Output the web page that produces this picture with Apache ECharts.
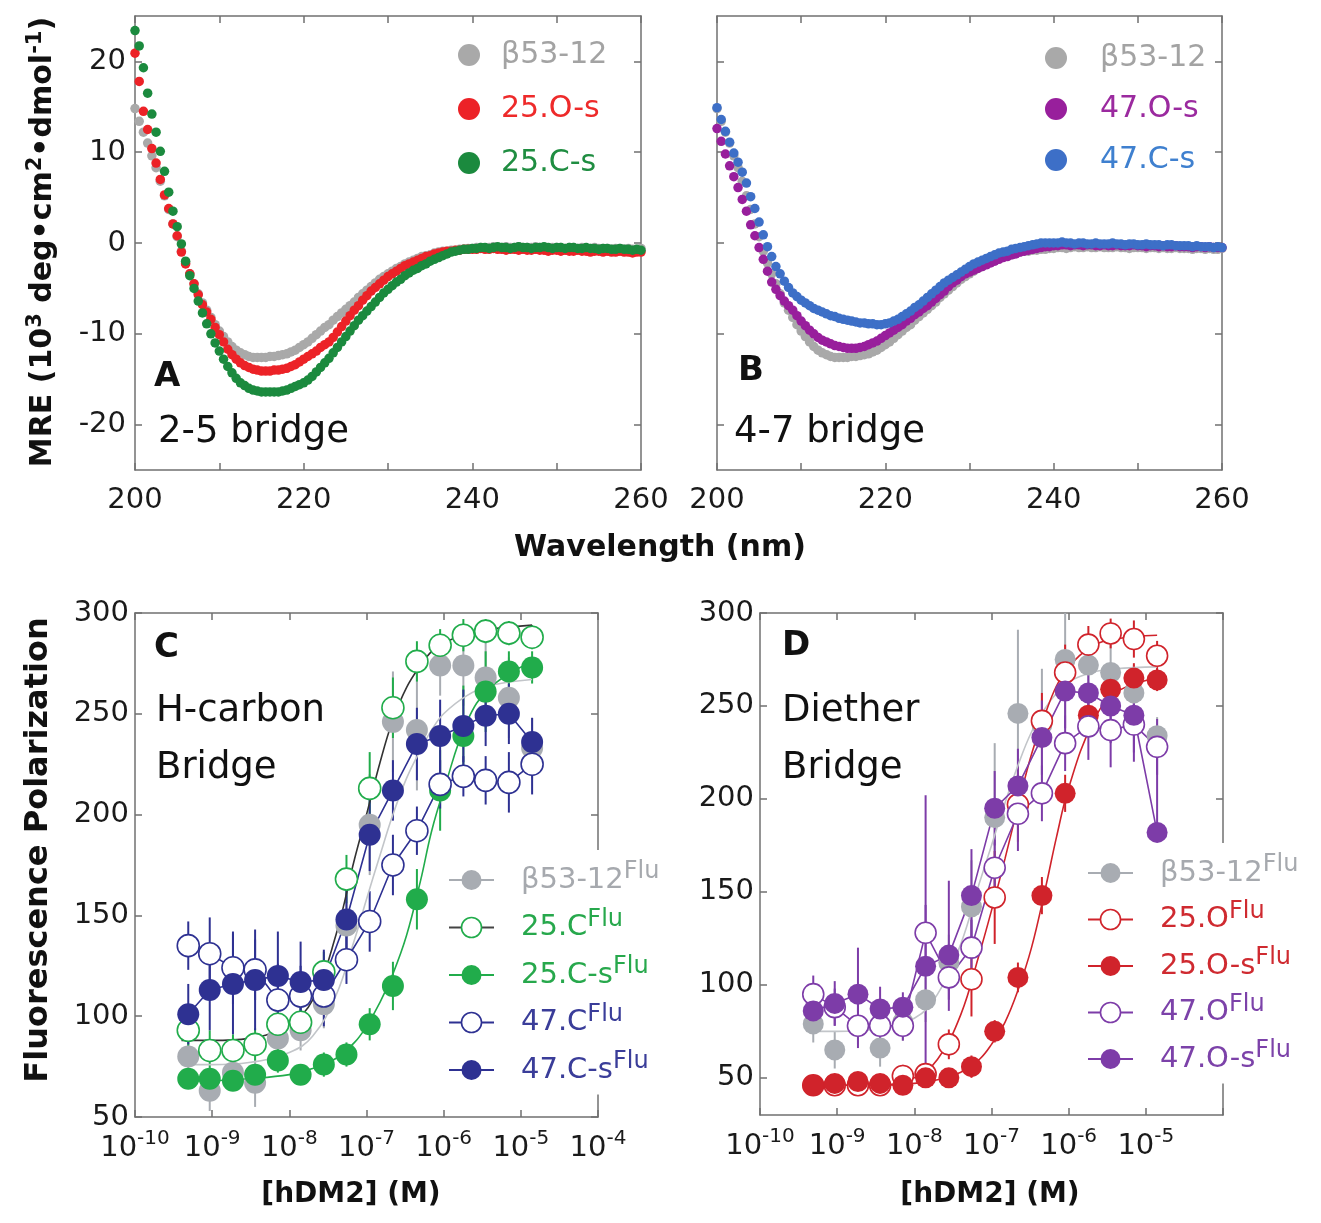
<!DOCTYPE html>
<html><head><meta charset="utf-8">
<script src="https://cdn.jsdelivr.net/npm/echarts@6/dist/echarts.min.js"></script>
<style>html,body{margin:0;padding:0;background:#fff}#c{width:1321px;height:1223px}</style>
</head><body><div id="c"></div>
<script>
// ---------- Panel A/B : CD spectra ----------
const wavelengths = [
200,200.5,201,201.5,202,202.5,203,203.5,204,204.5,
205,205.5,206,206.5,207,207.5,208,208.5,209,209.5,
210,210.5,211,211.5,212,212.5,213,213.5,214,214.5,
215,215.5,216,216.5,217,217.5,218,218.5,219,219.5,
220,220.5,221,221.5,222,222.5,223,223.5,224,224.5,
225,225.5,226,226.5,227,227.5,228,228.5,229,229.5,
230,230.5,231,231.5,232,232.5,233,233.5,234,234.5,
235,235.5,236,236.5,237,237.5,238,238.5,239,239.5,
240,240.5,241,241.5,242,242.5,243,243.5,244,244.5,
245,245.5,246,246.5,247,247.5,248,248.5,249,249.5,
250,250.5,251,251.5,252,252.5,253,253.5,254,254.5,
255,255.5,256,256.5,257,257.5,258,258.5,259,259.5,
260];
const mreB5312 = [
14.8,13.4,12.2,11.0,9.6,8.3,6.8,5.2,3.7,2.1,
0.7,-0.9,-2.2,-3.4,-4.5,-5.6,-6.6,-7.4,-8.2,-9.0,
-9.7,-10.3,-10.9,-11.4,-11.8,-12.1,-12.3,-12.5,-12.6,-12.6,
-12.6,-12.6,-12.5,-12.5,-12.4,-12.3,-12.2,-12.0,-11.8,-11.5,
-11.2,-10.9,-10.5,-10.1,-9.7,-9.3,-9.0,-8.5,-8.1,-7.7,
-7.3,-6.9,-6.5,-6.0,-5.6,-5.2,-4.8,-4.4,-4.0,-3.7,
-3.4,-3.1,-2.8,-2.6,-2.3,-2.1,-1.9,-1.7,-1.5,-1.4,
-1.3,-1.1,-1.0,-0.9,-0.9,-0.8,-0.8,-0.7,-0.7,-0.6,
-0.6,
-0.5,-0.5,-0.6,-0.5,-0.4,-0.5,-0.5,-0.4,-0.5,-0.5,
-0.4,-0.5,-0.5,-0.5,-0.4,-0.5,-0.5,-0.6,-0.5,-0.5,
-0.5,-0.6,-0.5,-0.5,-0.6,-0.5,-0.6,-0.6,-0.5,-0.6,
-0.6,-0.6,-0.7,-0.6,-0.6,-0.7,-0.6,-0.7,-0.7,-0.6];
const mre25Os = [
20.9,17.8,14.5,12.5,10.4,8.8,7.0,5.3,3.8,2.1,
0.8,-1.0,-2.3,-3.4,-4.5,-5.7,-6.8,-7.6,-8.4,-9.3,
-10.1,-10.9,-11.7,-12.3,-12.8,-13.2,-13.5,-13.7,-13.9,-14.0,
-14.1,-14.1,-14.1,-14.0,-14.0,-13.9,-13.8,-13.6,-13.4,-13.1,
-12.8,-12.5,-12.2,-11.9,-11.5,-11.2,-10.9,-10.4,-9.8,-9.2,
-8.6,-8.0,-7.4,-6.9,-6.3,-5.8,-5.3,-4.9,-4.5,-4.1,
-3.7,-3.4,-3.1,-2.8,-2.5,-2.3,-2.1,-1.9,-1.7,-1.5,
-1.4,-1.2,-1.1,-1.0,-0.9,-0.9,-0.8,-0.8,-0.7,-0.7,
-0.7,
-0.7,-0.6,-0.7,-0.7,-0.6,-0.7,-0.7,-0.8,-0.7,-0.7,
-0.8,-0.7,-0.8,-0.8,-0.7,-0.8,-0.8,-0.9,-0.8,-0.8,
-0.9,-0.8,-0.9,-0.9,-0.8,-0.9,-0.9,-1.0,-0.9,-0.9,
-1.0,-0.9,-1.0,-1.0,-0.9,-1.0,-1.0,-1.1,-1.0,-1.0];
const mre25Cs = [
23.4,21.7,19.3,16.5,14.2,12.2,10.1,7.9,5.6,3.5,
1.8,-0.1,-2.0,-3.6,-5.0,-6.4,-7.7,-8.9,-10.0,-11.0,
-11.9,-12.8,-13.6,-14.3,-14.9,-15.4,-15.7,-16.0,-16.2,-16.3,
-16.4,-16.4,-16.4,-16.4,-16.4,-16.3,-16.2,-16.0,-15.8,-15.6,
-15.4,-15.1,-14.7,-14.2,-13.7,-13.2,-12.7,-12.1,-11.5,-10.9,
-10.3,-9.7,-9.1,-8.5,-8.0,-7.5,-7.0,-6.5,-6.0,-5.5,
-5.1,-4.7,-4.3,-4.0,-3.6,-3.3,-3.0,-2.8,-2.5,-2.3,
-2.0,-1.8,-1.6,-1.4,-1.2,-1.0,-0.9,-0.8,-0.7,-0.7,
-0.6,
-0.6,-0.5,-0.5,-0.6,-0.5,-0.4,-0.5,-0.5,-0.6,-0.5,
-0.4,-0.5,-0.5,-0.6,-0.5,-0.5,-0.4,-0.5,-0.6,-0.5,
-0.5,-0.6,-0.5,-0.5,-0.6,-0.6,-0.5,-0.6,-0.6,-0.7,
-0.6,-0.6,-0.7,-0.7,-0.6,-0.7,-0.7,-0.8,-0.7,-0.8];
const mre47Os = [
12.6,11.2,9.8,8.5,7.3,6.1,4.8,3.5,2.0,0.8,
-0.5,-1.8,-3.1,-4.3,-5.1,-5.8,-6.4,-6.9,-7.4,-8.0,
-8.6,-9.1,-9.6,-10.0,-10.4,-10.7,-10.9,-11.1,-11.3,-11.4,
-11.5,-11.6,-11.6,-11.6,-11.5,-11.4,-11.2,-11.0,-10.8,-10.5,
-10.2,-9.9,-9.6,-9.3,-9.0,-8.6,-8.3,-7.9,-7.6,-7.2,
-6.9,-6.5,-6.1,-5.7,-5.3,-4.8,-4.4,-4.1,-3.7,-3.4,
-3.2,-3.0,-2.8,-2.6,-2.4,-2.2,-2.0,-1.8,-1.6,-1.5,
-1.3,-1.2,-1.0,-0.9,-0.8,-0.7,-0.6,-0.5,-0.4,-0.4,
-0.3,
-0.3,-0.2,-0.2,-0.3,-0.2,-0.2,-0.3,-0.2,-0.2,-0.3,
-0.3,-0.2,-0.3,-0.3,-0.2,-0.3,-0.3,-0.3,-0.2,-0.3,
-0.3,-0.4,-0.3,-0.3,-0.4,-0.3,-0.4,-0.4,-0.3,-0.4,
-0.4,-0.4,-0.5,-0.4,-0.4,-0.5,-0.4,-0.5,-0.5,-0.5];
const mre47Cs = [
14.9,13.6,12.3,11.1,9.9,8.9,7.8,6.6,5.1,3.8,
2.3,0.9,-0.4,-1.5,-2.6,-3.4,-4.2,-4.9,-5.5,-5.9,
-6.3,-6.6,-6.9,-7.2,-7.4,-7.6,-7.8,-8.0,-8.1,-8.3,
-8.4,-8.5,-8.6,-8.7,-8.8,-8.8,-8.9,-8.9,-9.0,-9.0,
-8.9,-8.8,-8.6,-8.4,-8.1,-7.8,-7.5,-7.1,-6.8,-6.4,
-6.0,-5.6,-5.2,-4.8,-4.4,-4.1,-3.8,-3.5,-3.2,-2.9,
-2.6,-2.3,-2.1,-1.9,-1.7,-1.5,-1.3,-1.1,-1.0,-0.9,
-0.7,-0.6,-0.5,-0.4,-0.3,-0.2,-0.1,0.0,0.0,0.0,
0.0,
0.0,0.1,0.0,0.0,-0.1,0.0,0.0,-0.1,-0.1,0.0,
-0.1,-0.1,-0.1,0.0,-0.1,-0.1,-0.2,-0.1,-0.1,-0.2,
-0.2,-0.1,-0.2,-0.2,-0.2,-0.3,-0.2,-0.2,-0.3,-0.3,
-0.3,-0.3,-0.4,-0.3,-0.4,-0.4,-0.4,-0.5,-0.4,-0.5];

// ---------- Panel C/D : fluorescence polarization ----------
const conc = [4.9e-10,9.3e-10,1.86e-9,3.6e-9,7.1e-9,1.4e-8,2.8e-8,5.5e-8,1.1e-7,2.2e-7,4.5e-7,9.0e-7,1.8e-6,3.5e-6,7.0e-6,1.4e-5];
const fpC_b5312 = [80,63,72,67,89,93,106,145,195,246,242,274,274,268,258,233];
const errC_b5312 = [8,10,8,12,10,10,12,20,25,25,30,15,20,25,20,15];
const fpC_25C = [93,83,83,86,96,97,122,168,213,253,276,284,289,291,290,288];
const errC_25C = [8,10,8,8,10,8,10,12,18,15,10,8,8,6,6,6];
const fpC_25Cs = [69,69,68,71,78,71,76,81,96,115,158,212,239,261,271,273];
const errC_25Cs = [5,5,5,5,6,5,6,6,8,12,15,20,25,20,10,8];
const fpC_47C = [135,131,124,123,108,110,110,128,147,175,192,215,219,217,216,225];
const errC_47C = [12,18,18,15,18,15,15,12,15,15,12,12,10,12,15,15];
const fpC_47Cs = [101,113,116,118,120,117,118,148,190,212,235,239,244,249,250,236];
const errC_47Cs = [15,20,25,25,22,20,15,15,18,15,18,18,18,15,15,12];

const fpD_b5312 = [79,65,78,66,80,92,112,142,190,246,240,275,272,268,257,234];
const errD_b5312 = [10,10,10,10,10,12,15,25,40,45,30,30,15,15,15,10];
const fpD_25O = [46,46,46,46,51,52,68,103,147,197,242,268,283,289,286,277];
const errD_25O = [4,4,4,4,6,6,8,20,25,20,15,15,10,8,10,8];
const fpD_25Os = [46,47,48,47,46,50,50,56,75,104,148,203,245,259,265,264];
const errD_25Os = [4,4,4,4,4,5,5,6,6,8,10,10,10,8,8,6];
const fpD_47O = [95,88,78,78,78,128,104,120,163,192,203,230,239,237,240,228];
const errD_47O = [10,10,12,10,8,15,12,15,15,20,15,15,18,20,20,15];
const fpD_47Os = [86,90,95,87,88,110,116,148,195,207,233,258,257,250,245,182];
const errD_47OsLo = [10,12,10,12,8,54,30,25,20,20,20,20,20,20,20,0];
const errD_47OsHi = [10,12,25,12,8,92,40,25,20,20,20,20,20,20,20,57];

// fitted binding curves
const fitConc = [4e-10,1e-9,3e-9,1e-8,2e-8,4e-8,7e-8,1e-7,1.5e-7,2.2e-7,3.3e-7,5e-7,7e-7,1e-6,2e-6,4e-6,1.4e-5];
const fitC_b5312 = [76,76,77,82,90,110,138,158,180,200,218,232,242,250,259,264,267];
const fitC_25C = [88,88,89,96,108,140,178,200,226,247,263,274,281,285,290,292,294];
const fitC_25Cs = [68,68,69,71,74,79,87,95,107,121,140,167,192,212,246,263,276];
const fitD_b5312 = [75,75,76,82,95,122,155,175,198,218,236,249,257,263,268,270,271];
const fitD_25O = [46,46,46,50,60,84,117,140,168,196,224,246,261,271,282,286,288];
const fitD_25Os = [46,46,46,47,49,53,60,68,80,97,120,152,180,206,240,257,265];

const yTicksAB = [-20,-10,0,10,20];
const yTicksFP = [50,100,150,200,250,300];

// ---------- styling ----------
const FONT = 'DejaVu Sans';
const AX = '#707070';
const LBL = '#1a1a1a';
const C_GRAY_A = '#a9a9a9', C_RED_A = '#ec2227', C_GREEN_A = '#1b8a3e';
const C_PURPLE_B = '#981f9c', C_BLUE_B = '#3d6fc7';
const C_GRAY = '#a8acb2', C_GRAYFIT = '#c2c5c9', C_GREEN = '#21ac4b', C_NAVY = '#2e3192', C_BLACK = '#333333';
const C_RED = '#d0232b', C_PURPLE = '#7d3ca8';

function axisLineStyle(){ return {show:true, onZero:false, lineStyle:{color:AX, width:1.5}}; }
function tickStyle(custom){ const t = {show:true, inside:true, length:7, lineStyle:{color:AX, width:1.5}}; if (custom) t.customValues = custom; return t; }

const supRich = {
  b: {fontSize: 29, lineHeight: 38, fontFamily: FONT, color: LBL},
  s: {fontSize: 20, lineHeight: 20, verticalAlign: 'top', fontFamily: FONT, color: LBL}
};
function logLabel(hideTop){
  return {
    show: true, margin: 12, rich: supRich,
    formatter: function(v){ const e = Math.round(Math.log10(v)); if (hideTop && e === -4) return ''; return '{b|10}{s|' + e + '}'; }
  };
}

const xAxes = [];
const yAxes = [];
// A
xAxes.push({gridIndex:0, type:'value', min:200, max:260, interval:10, position:'bottom', axisLine:axisLineStyle(), axisTick:tickStyle(), splitLine:{show:false},
  axisLabel:{show:true, margin:13, fontSize:29, lineHeight:34, fontFamily:FONT, color:LBL, formatter:v => (v % 20 === 0 ? String(v) : '')}});
xAxes.push({gridIndex:0, type:'value', min:200, max:260, interval:10, position:'top', axisLine:axisLineStyle(), axisTick:tickStyle(), splitLine:{show:false}, axisLabel:{show:false}});
// B
xAxes.push({gridIndex:1, type:'value', min:200, max:260, interval:10, position:'bottom', axisLine:axisLineStyle(), axisTick:tickStyle(), splitLine:{show:false},
  axisLabel:{show:true, margin:13, fontSize:29, lineHeight:34, fontFamily:FONT, color:LBL, formatter:v => (v % 20 === 0 ? String(v) : '')}});
xAxes.push({gridIndex:1, type:'value', min:200, max:260, interval:10, position:'top', axisLine:axisLineStyle(), axisTick:tickStyle(), splitLine:{show:false}, axisLabel:{show:false}});
// C
xAxes.push({gridIndex:2, type:'log', logBase:10, min:1e-10, max:1e-4, position:'bottom', axisLine:axisLineStyle(), axisTick:tickStyle(), splitLine:{show:false}, minorTick:{show:false}, axisLabel:logLabel(false)});
xAxes.push({gridIndex:2, type:'log', logBase:10, min:1e-10, max:1e-4, position:'top', axisLine:axisLineStyle(), axisTick:tickStyle(), splitLine:{show:false}, axisLabel:{show:false}});
// D
xAxes.push({gridIndex:3, type:'log', logBase:10, min:1e-10, max:1e-4, position:'bottom', axisLine:axisLineStyle(), axisTick:tickStyle(), splitLine:{show:false}, axisLabel:logLabel(true)});
xAxes.push({gridIndex:3, type:'log', logBase:10, min:1e-10, max:1e-4, position:'top', axisLine:axisLineStyle(), axisTick:tickStyle(), splitLine:{show:false}, axisLabel:{show:false}});

// A y
yAxes.push({gridIndex:0, type:'value', min:-25, max:25, position:'left', axisLine:axisLineStyle(), axisTick:tickStyle(yTicksAB), splitLine:{show:false},
  axisLabel:{show:true, customValues:yTicksAB, margin:9, fontSize:29, fontFamily:FONT, color:LBL}});
yAxes.push({gridIndex:0, type:'value', min:-25, max:25, position:'right', axisLine:axisLineStyle(), axisTick:tickStyle(yTicksAB), splitLine:{show:false}, axisLabel:{show:false}});
// B y
yAxes.push({gridIndex:1, type:'value', min:-25, max:25, position:'left', axisLine:axisLineStyle(), axisTick:tickStyle(yTicksAB), splitLine:{show:false}, axisLabel:{show:false}});
yAxes.push({gridIndex:1, type:'value', min:-25, max:25, position:'right', axisLine:axisLineStyle(), axisTick:tickStyle(yTicksAB), splitLine:{show:false}, axisLabel:{show:false}});
// C y
yAxes.push({gridIndex:2, type:'value', min:50, max:300, interval:50, position:'left', axisLine:axisLineStyle(), axisTick:tickStyle(), splitLine:{show:false},
  axisLabel:{show:true, margin:6, fontSize:29, fontFamily:FONT, color:LBL}});
yAxes.push({gridIndex:2, type:'value', min:50, max:300, interval:50, position:'right', axisLine:axisLineStyle(), axisTick:tickStyle(), splitLine:{show:false}, axisLabel:{show:false}});
// D y
yAxes.push({gridIndex:3, type:'value', min:30, max:300, position:'left', axisLine:axisLineStyle(), axisTick:tickStyle(yTicksFP), splitLine:{show:false},
  axisLabel:{show:true, customValues:yTicksFP, margin:6, fontSize:29, fontFamily:FONT, color:LBL}});
yAxes.push({gridIndex:3, type:'value', min:30, max:300, position:'right', axisLine:axisLineStyle(), axisTick:tickStyle(yTicksFP), splitLine:{show:false}, axisLabel:{show:false}});

// ---------- series builders ----------
function cdSeries(name, axis, vals, color){
  return {type:'scatter', name:name, xAxisIndex:axis, yAxisIndex:axis, symbol:'circle', symbolSize:9.5,
    itemStyle:{color:color, opacity:1}, data: wavelengths.map((w,i)=>[w, vals[i]]), silent:true, z:2};
}
function errSeries(axis, vals, lo, hi, color){
  return {type:'custom', xAxisIndex:axis, yAxisIndex:axis, clip:true, silent:true, z:2,
    data: conc.map((c,i)=>[c, vals[i]-lo[i], vals[i]+hi[i]]),
    encode:{x:0, y:[1,2]},
    renderItem: function(params, api){
      const x = api.value(0);
      const p1 = api.coord([x, api.value(1)]);
      const p2 = api.coord([x, api.value(2)]);
      return {type:'line', shape:{x1:p1[0], y1:p1[1], x2:p2[0], y2:p2[1]}, style:{stroke:color, lineWidth:2}};
    }};
}
function fitSeries(axis, vals, color){
  return {type:'line', xAxisIndex:axis, yAxisIndex:axis, showSymbol:false, symbol:'none', smooth:0.4, silent:true, z:2,
    lineStyle:{color:color, width:1.6}, data: fitConc.map((c,i)=>[c, vals[i]])};
}
function fpSeries(name, axis, vals, color, open, connect, size){
  return {type:'line', name:name, xAxisIndex:axis, yAxisIndex:axis, symbol:'circle', symbolSize:size, showSymbol:true, silent:true, z:3,
    itemStyle: open ? {color:'#ffffff', borderColor:color, borderWidth:1.6} : {color:color, borderColor:color, borderWidth:0},
    lineStyle: connect ? {color:color, width:1.6} : {color:color, width:0, opacity:0},
    data: conc.map((c,i)=>[c, vals[i]])};
}

const series = [
  cdSeries('β53-12', 0, mreB5312, C_GRAY_A),
  cdSeries('25.O-s', 0, mre25Os, C_RED_A),
  cdSeries('25.C-s', 0, mre25Cs, C_GREEN_A),
  cdSeries('β53-12', 2, mreB5312, C_GRAY_A),
  cdSeries('47.O-s', 2, mre47Os, C_PURPLE_B),
  cdSeries('47.C-s', 2, mre47Cs, C_BLUE_B),

  errSeries(4, fpC_b5312, errC_b5312, errC_b5312, C_GRAY),
  fitSeries(4, fitC_b5312, C_GRAYFIT),
  fpSeries('β53-12Flu', 4, fpC_b5312, C_GRAY, false, false, 22),
  errSeries(4, fpC_25C, errC_25C, errC_25C, C_GREEN),
  fitSeries(4, fitC_25C, C_BLACK),
  fpSeries('25.CFlu', 4, fpC_25C, C_GREEN, true, false, 22),
  errSeries(4, fpC_25Cs, errC_25Cs, errC_25Cs, C_GREEN),
  fitSeries(4, fitC_25Cs, C_GREEN),
  fpSeries('25.C-sFlu', 4, fpC_25Cs, C_GREEN, false, false, 22),
  errSeries(4, fpC_47C, errC_47C, errC_47C, C_NAVY),
  fpSeries('47.CFlu', 4, fpC_47C, C_NAVY, true, true, 22),
  errSeries(4, fpC_47Cs, errC_47Cs, errC_47Cs, C_NAVY),
  fpSeries('47.C-sFlu', 4, fpC_47Cs, C_NAVY, false, true, 22),

  errSeries(6, fpD_b5312, errD_b5312, errD_b5312, C_GRAY),
  fitSeries(6, fitD_b5312, C_GRAYFIT),
  fpSeries('β53-12Flu', 6, fpD_b5312, C_GRAY, false, false, 21),
  errSeries(6, fpD_25O, errD_25O, errD_25O, C_RED),
  fitSeries(6, fitD_25O, C_RED),
  fpSeries('25.OFlu', 6, fpD_25O, C_RED, true, false, 21),
  errSeries(6, fpD_25Os, errD_25Os, errD_25Os, C_RED),
  fitSeries(6, fitD_25Os, C_RED),
  fpSeries('25.O-sFlu', 6, fpD_25Os, C_RED, false, false, 21),
  errSeries(6, fpD_47O, errD_47O, errD_47O, C_PURPLE),
  fpSeries('47.OFlu', 6, fpD_47O, C_PURPLE, true, true, 21),
  errSeries(6, fpD_47Os, errD_47OsLo, errD_47OsHi, C_PURPLE),
  fpSeries('47.O-sFlu', 6, fpD_47Os, C_PURPLE, false, true, 21)
];

// ---------- legends ----------
function fpLegendItem(name, color, textColor, open, lineColor){
  return {name:name, textStyle:{color:textColor},
    lineStyle:{color:lineColor || color, width:2, opacity:1},
    itemStyle: open ? {color:'#ffffff', borderColor:color, borderWidth:1.6} : {color:color, borderColor:color, borderWidth:0}};
}
const fpLegendText = {
  fontFamily: FONT, padding:[0,0,0,22],
  rich: {
    b: {fontSize: 29, lineHeight: 40, fontFamily: FONT},
    s: {fontSize: 24, lineHeight: 28, verticalAlign: 'top', fontFamily: FONT}
  }
};
function fpFormatter(name){ return '{b|' + name.replace(/Flu$/, '') + '}{s|Flu}'; }

const legends = [
  {orient:'vertical', left:458, top:38, padding:0, itemWidth:54, itemHeight:22, itemGap:20, selectedMode:false,
   textStyle:{fontFamily:FONT, fontSize:30, lineHeight:34},
   data:[{name:'β53-12', textStyle:{color:'#a3a3a3'}}, {name:'25.O-s', textStyle:{color:'#ee2a2a'}}, {name:'25.C-s', textStyle:{color:'#1f8d41'}}]},
  {orient:'vertical', left:1045, top:41, padding:0, itemWidth:78, itemHeight:22, itemGap:17, selectedMode:false,
   textStyle:{fontFamily:FONT, fontSize:30, lineHeight:34},
   data:[{name:'β53-12', textStyle:{color:'#a3a3a3'}}, {name:'47.O-s', textStyle:{color:'#9b2a9f'}}, {name:'47.C-s', textStyle:{color:'#3f80cf'}}]},
  {orient:'vertical', left:444, top:850, padding:[10,14,10,4], backgroundColor:'#ffffff', itemWidth:45, itemHeight:25, itemGap:13, selectedMode:false,
   formatter: fpFormatter, textStyle: fpLegendText,
   data:[fpLegendItem('β53-12Flu', C_GRAY, '#a6a9ae', false),
         fpLegendItem('25.CFlu', C_GREEN, '#27a84c', true, '#444444'),
         fpLegendItem('25.C-sFlu', C_GREEN, '#27a84c', false),
         fpLegendItem('47.CFlu', C_NAVY, '#3a3d99', true),
         fpLegendItem('47.C-sFlu', C_NAVY, '#3a3d99', false)]},
  {orient:'vertical', left:1083, top:843, padding:[10,4,10,4], backgroundColor:'#ffffff', itemWidth:45, itemHeight:25, itemGap:12, selectedMode:false,
   formatter: fpFormatter, textStyle: fpLegendText,
   data:[fpLegendItem('β53-12Flu', C_GRAY, '#a6a9ae', false),
         fpLegendItem('25.OFlu', C_RED, '#cf2a30', true),
         fpLegendItem('25.O-sFlu', C_RED, '#cf2a30', false),
         fpLegendItem('47.OFlu', C_PURPLE, '#7c42a9', true),
         fpLegendItem('47.O-sFlu', C_PURPLE, '#7c42a9', false)]}
];

// ---------- texts ----------
function txt(x, y, text, size, bold, align, color){
  return {type:'text', x:x, y:y, silent:true, z:10,
    style:{text:text, fontSize:size, fontWeight: bold ? 'bold' : 'normal', fontFamily:FONT, fill: color || '#111',
      align: align || 'left', verticalAlign:'middle', textAlign: align || 'left', textVerticalAlign:'middle'}};
}
const titleRich = {
  b: {fontSize: 30, lineHeight: 36, fontWeight:'bold', fontFamily: FONT, fill:'#111'},
  s: {fontSize: 21, lineHeight: 22, fontWeight:'bold', fontFamily: FONT, fill:'#111', verticalAlign:'top'}
};
const graphics = [
  txt(660, 548, 'Wavelength (nm)', 30, true, 'center'),
  {type:'text', x:43, y:242, rotation:Math.PI/2, silent:true, z:10,
   style:{text:'{b|MRE (10}{s|3}{b| deg•cm}{s|2}{b|•dmol}{s|-1}{b|)}', rich:titleRich, fill:'#111',
     align:'center', verticalAlign:'middle', textAlign:'center', textVerticalAlign:'middle'}},
  {type:'text', x:39, y:850, rotation:Math.PI/2, silent:true, z:10,
   style:{text:'Fluorescence Polarization', fontSize:32, fontWeight:'bold', fontFamily:FONT, fill:'#111',
     align:'center', verticalAlign:'middle', textAlign:'center', textVerticalAlign:'middle'}},
  txt(351, 1195, '[hDM2] (M)', 28, true, 'center'),
  txt(990, 1195, '[hDM2] (M)', 28, true, 'center'),
  txt(154, 377, 'A', 34, true),
  txt(158, 432, '2-5 bridge', 37, false),
  txt(738, 371, 'B', 34, true),
  txt(734, 432, '4-7 bridge', 37, false),
  txt(154, 648, 'C', 34, true),
  txt(156, 711, 'H-carbon', 37, false),
  txt(156, 768, 'Bridge', 37, false),
  txt(782, 646, 'D', 34, true),
  txt(782, 711, 'Diether', 37, false),
  txt(782, 768, 'Bridge', 37, false)
];

const chart = echarts.init(document.getElementById('c'), null, {renderer:'canvas'});
chart.setOption({
  animation:false,
  backgroundColor:'#ffffff',
  textStyle:{fontFamily:FONT},
  grid:[
    {left:135, top:16, width:506, height:454},
    {left:717, top:16, width:505, height:454},
    {left:135, top:613, width:463, height:504},
    {left:760, top:613, width:463, height:502}
  ],
  xAxis: xAxes,
  yAxis: yAxes,
  legend: legends,
  series: series,
  graphic: graphics
});
</script>
</body></html>
